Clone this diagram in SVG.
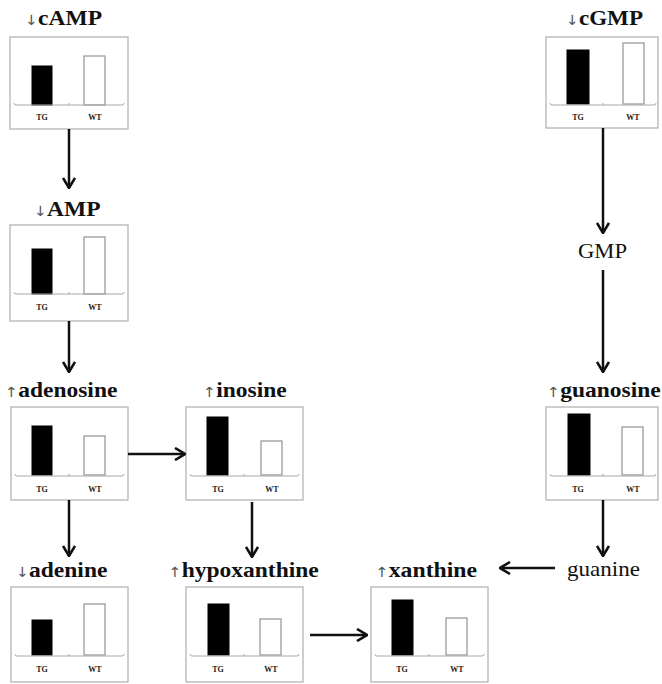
<svg xmlns="http://www.w3.org/2000/svg" width="662" height="684" viewBox="0 0 662 684">
<style>
.box{fill:#fff;stroke:#b4b4b4;stroke-width:1.3}
.tg{fill:#000;stroke:#000;stroke-width:1}
.wt{fill:#fff;stroke:#9a9a9a;stroke-width:1.3}
.ax{fill:none;stroke:#a8a8a8;stroke-width:1}
.sm{font-family:"Liberation Serif",serif;font-weight:bold;font-size:8px;fill:#222;text-anchor:middle}
.lb{font-family:"Liberation Serif",serif;font-weight:bold;font-size:21px;fill:#111}
.rg{font-family:"Liberation Serif",serif;font-size:21px;fill:#111}
.ar{font-family:"DejaVu Sans",sans-serif;font-weight:normal;font-size:14px;fill:#555}
.cn{stroke:#111;stroke-width:2.5;fill:none}
</style>
<defs>
<marker id="ah" viewBox="0 0 12 14" refX="11" refY="7" markerWidth="12" markerHeight="14" markerUnits="userSpaceOnUse" orient="auto">
<path d="M1,1 L11,7 L1,13" fill="none" stroke="#111" stroke-width="2.6"/>
</marker>
</defs>

<g id="cAMP">
<text class="lb" transform="translate(24.9,25) scale(1.12,1)"><tspan class="ar">↓</tspan>cAMP</text>
<rect class="box" x="10" y="37" width="118" height="92"/>
<rect class="tg" x="32" y="66" width="20" height="39"/>
<rect class="wt" x="84" y="56" width="21" height="49"/>
<path class="ax" d="M14,103 Q14,105 16,105 L122,105 Q124,105 124,103 M69,105 V103"/>
<text class="sm" x="42" y="120">TG</text><text class="sm" x="95" y="120">WT</text>
</g>

<g id="AMP">
<text class="lb" transform="translate(33.9,216) scale(1.12,1)"><tspan class="ar">↓</tspan>AMP</text>
<rect class="box" x="10" y="225" width="118" height="96"/>
<rect class="tg" x="32" y="249" width="20" height="45"/>
<rect class="wt" x="84" y="237" width="21" height="57"/>
<path class="ax" d="M14,292 Q14,294 16,294 L122,294 Q124,294 124,292 M69,294 V292"/>
<text class="sm" x="42" y="310">TG</text><text class="sm" x="95" y="310">WT</text>
</g>

<g id="adenosine">
<text class="lb" transform="translate(5,397) scale(1.12,1)"><tspan class="ar">↑</tspan>adenosine</text>
<rect class="box" x="11" y="407" width="117" height="93"/>
<rect class="tg" x="32" y="426" width="20" height="49"/>
<rect class="wt" x="84" y="436" width="21" height="39"/>
<path class="ax" d="M15,474 Q15,476 17,476 L122,476 Q124,476 124,474 M69,476 V474"/>
<text class="sm" x="42" y="492">TG</text><text class="sm" x="95" y="492">WT</text>
</g>

<g id="inosine">
<text class="lb" transform="translate(203,397) scale(1.12,1)"><tspan class="ar">↑</tspan>inosine</text>
<rect class="box" x="186" y="407" width="117" height="93"/>
<rect class="tg" x="207" y="417" width="21" height="58"/>
<rect class="wt" x="261" y="441" width="21" height="34"/>
<path class="ax" d="M190,474 Q190,476 192,476 L297,476 Q299,476 299,474 M244,476 V474"/>
<text class="sm" x="218" y="492">TG</text><text class="sm" x="272" y="492">WT</text>
</g>

<g id="adenine">
<text class="lb" transform="translate(15.9,577) scale(1.12,1)"><tspan class="ar">↓</tspan>adenine</text>
<rect class="box" x="11" y="587" width="117" height="95"/>
<rect class="tg" x="32" y="620" width="20" height="35"/>
<rect class="wt" x="84" y="604" width="21" height="51"/>
<path class="ax" d="M15,654 Q15,656 17,656 L122,656 Q124,656 124,654 M69,656 V654"/>
<text class="sm" x="42" y="672">TG</text><text class="sm" x="95" y="672">WT</text>
</g>

<g id="hypoxanthine">
<text class="lb" transform="translate(168.5,577) scale(1.12,1)"><tspan class="ar">↑</tspan>hypoxanthine</text>
<rect class="box" x="186" y="587" width="117" height="95"/>
<rect class="tg" x="208" y="604" width="21" height="51"/>
<rect class="wt" x="260" y="619" width="21" height="36"/>
<path class="ax" d="M190,654 Q190,656 192,656 L297,656 Q299,656 299,654 M244,656 V654"/>
<text class="sm" x="218" y="672">TG</text><text class="sm" x="271" y="672">WT</text>
</g>

<g id="xanthine">
<text class="lb" transform="translate(375.5,577) scale(1.13,1)"><tspan class="ar">↑</tspan>xanthine</text>
<rect class="box" x="371" y="587" width="117" height="95"/>
<rect class="tg" x="392" y="600" width="21" height="55"/>
<rect class="wt" x="446" y="618" width="21" height="37"/>
<path class="ax" d="M375,654 Q375,656 377,656 L482,656 Q484,656 484,654 M429,656 V654"/>
<text class="sm" x="402" y="672">TG</text><text class="sm" x="457" y="672">WT</text>
</g>

<g id="cGMP">
<text class="lb" transform="translate(566,25) scale(1.1,1)"><tspan class="ar">↓</tspan>cGMP</text>
<rect class="box" x="546" y="37" width="112" height="91"/>
<rect class="tg" x="567" y="50" width="22" height="54"/>
<rect class="wt" x="623" y="43" width="21" height="61"/>
<path class="ax" d="M550,103 Q550,105 552,105 L654,105 Q656,105 656,103 M603,105 V103"/>
<text class="sm" x="578" y="120">TG</text><text class="sm" x="633" y="120">WT</text>
</g>

<g id="GMP">
<text class="rg" x="578" y="258" textLength="49" lengthAdjust="spacingAndGlyphs">GMP</text>
</g>

<g id="guanosine">
<text class="lb" transform="translate(547,397) scale(1.12,1)"><tspan class="ar">↑</tspan>guanosine</text>
<rect class="box" x="546" y="407" width="112" height="93"/>
<rect class="tg" x="568" y="414" width="22" height="61"/>
<rect class="wt" x="622" y="427" width="21" height="48"/>
<path class="ax" d="M550,474 Q550,476 552,476 L654,476 Q656,476 656,474 M603,476 V474"/>
<text class="sm" x="578" y="492">TG</text><text class="sm" x="633" y="492">WT</text>
</g>

<g id="guanine">
<text class="rg" x="567" y="576" textLength="73" lengthAdjust="spacingAndGlyphs">guanine</text>
</g>

<g id="connectors">
<line class="cn" x1="69" y1="129" x2="69" y2="188" marker-end="url(#ah)"/>
<line class="cn" x1="69" y1="321" x2="69" y2="372" marker-end="url(#ah)"/>
<line class="cn" x1="69" y1="500" x2="69" y2="556" marker-end="url(#ah)"/>
<line class="cn" x1="128" y1="454" x2="185" y2="454" marker-end="url(#ah)"/>
<line class="cn" x1="252" y1="502" x2="252" y2="557" marker-end="url(#ah)"/>
<line class="cn" x1="310" y1="635" x2="367" y2="635" marker-end="url(#ah)"/>
<line class="cn" x1="603" y1="128" x2="603" y2="233" marker-end="url(#ah)"/>
<line class="cn" x1="603" y1="270" x2="603" y2="372" marker-end="url(#ah)"/>
<line class="cn" x1="603" y1="500" x2="603" y2="556" marker-end="url(#ah)"/>
<line class="cn" x1="555" y1="568" x2="500" y2="568" marker-end="url(#ah)"/>
</g>
</svg>
